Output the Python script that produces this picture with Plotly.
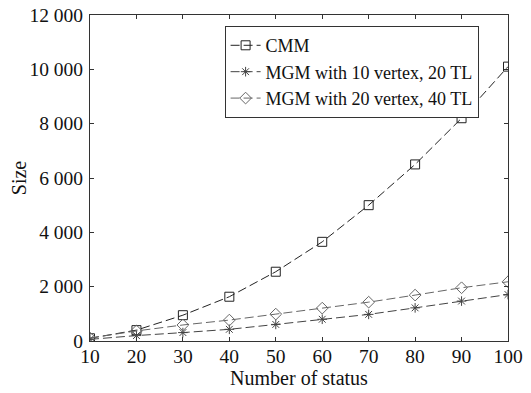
import plotly.graph_objects as go

x_status = [10, 20, 30, 40, 50, 60, 70, 80, 90, 100]
cmm = [100, 400, 950, 1630, 2550, 3650, 5000, 6500, 8200, 10100]
mgm_10 = [60, 200, 310, 430, 610, 800, 980, 1220, 1470, 1710]
mgm_20 = [110, 370, 590, 770, 990, 1210, 1430, 1690, 1960, 2180]
names = ["CMM", "MGM with 10 vertex, 20 TL", "MGM with 20 vertex, 40 TL"]

font = "Liberation Serif, Times New Roman, serif"
fig = go.Figure()
fig.add_trace(go.Scatter(x=x_status, y=cmm, name=names[0], mode="lines+markers",
                         line=dict(color="#222", width=1, dash="9px,4px"),
                         marker=dict(symbol="square-open", size=9, color="#222", line=dict(width=1))))
fig.add_trace(go.Scatter(x=x_status, y=mgm_10, name=names[1], mode="lines+markers",
                         line=dict(color="#444", width=1, dash="9px,4px"),
                         marker=dict(symbol="asterisk-open", size=8, color="#444", line=dict(width=1))))
fig.add_trace(go.Scatter(x=x_status, y=mgm_20, name=names[2], mode="lines+markers",
                         line=dict(color="#666", width=1, dash="9px,4px"),
                         marker=dict(symbol="diamond-open", size=9, color="#666", line=dict(width=1))))

axis_common = dict(showgrid=False, zeroline=False, showline=True, linecolor="#333", linewidth=1,
                   mirror="ticks", ticks="inside", ticklen=4, tickcolor="#333", automargin=False,
                   ticklabeloverflow="allow",
                   tickfont=dict(family=font, size=19.5, color="#111"))
fig.update_layout(
    width=531, height=393,
    margin=dict(l=82, r=31, t=7, b=60, autoexpand=False),
    paper_bgcolor="white", plot_bgcolor="white",
    separators=". ",
    font=dict(family=font, color="#111"),
    xaxis=dict(range=[10, 100], tickvals=x_status, ticklabelstandoff=-2,
               title=dict(text="Number of status", font=dict(size=20, family=font), standoff=0), **axis_common),
    yaxis=dict(range=[0, 12000], dtick=2000, tickformat=",d", ticklabelstandoff=2,
               title=dict(text="Size", font=dict(size=20, family=font), standoff=4), **axis_common),
    legend=dict(x=0.322, y=0.966, xanchor="left", yanchor="top", bgcolor="white",
                bordercolor="#333", borderwidth=1, font=dict(family=font, size=18, color="#111"),
                tracegroupgap=0, itemwidth=30),
)
fig.write_html("out.html")
